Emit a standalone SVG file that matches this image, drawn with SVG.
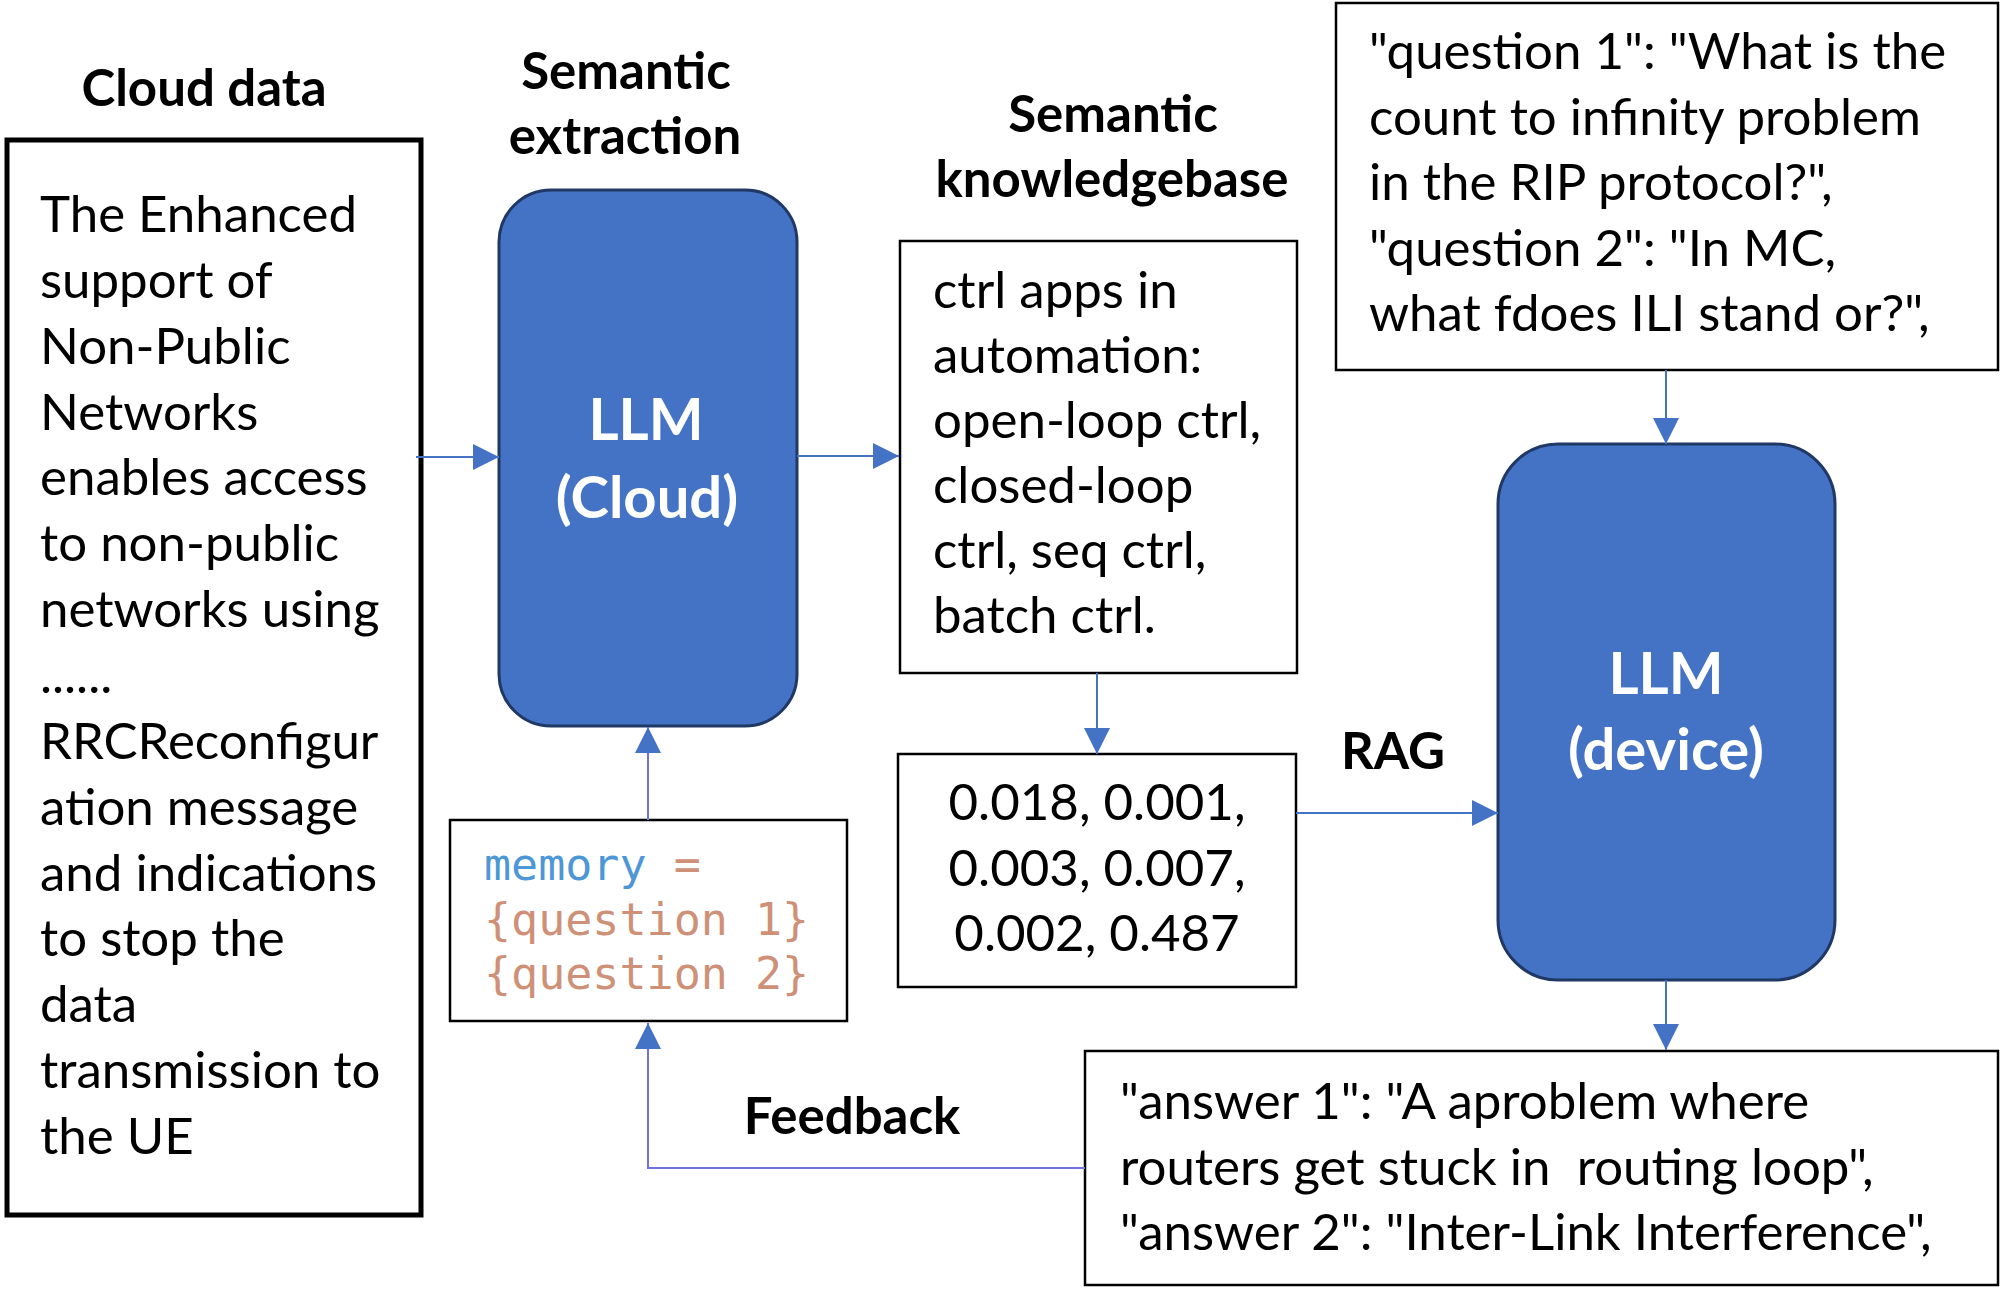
<svg xmlns="http://www.w3.org/2000/svg" width="2002" height="1301" viewBox="0 0 2002 1301">
<style>
.t{font-family:Lato,"Noto Sans",sans-serif;font-size:51px;fill:#000;white-space:pre}
.b{font-family:Lato,"Noto Sans",sans-serif;font-size:51px;font-weight:bold;fill:#000;text-anchor:middle}
.w{font-family:Lato,"Noto Sans",sans-serif;font-size:58px;font-weight:bold;fill:#fff;text-anchor:middle}
.box{fill:#fff;stroke:#000;stroke-width:2.5}
.llm{fill:#4472C4;stroke:#203864;stroke-width:3}
.m{font-family:"DejaVu Sans Mono",monospace;font-size:45px}
.c{fill:none;stroke:#4472C4;stroke-width:2}
.p{fill:none;stroke:#7070E0;stroke-width:2}
</style>
<defs>
<marker id="ah" viewBox="0 0 26 26" refX="26" refY="13" markerWidth="26" markerHeight="26" markerUnits="userSpaceOnUse" orient="auto">
<path d="M0,0 L26,13 L0,26 Z" fill="#4472C4"/>
</marker>
</defs>

<g id="titles">
<text class="b" x="204" y="106">Cloud data</text>
<text class="b" x="626" y="89">Semantic</text>
<text class="b" x="625" y="154">extraction</text>
<text class="b" x="1113" y="132">Semantic</text>
<text class="b" x="1112" y="197">knowledgebase</text>
<text class="b" x="1393" y="769">RAG</text>
<text class="b" x="852" y="1134">Feedback</text>
</g>

<g id="cloud-data">
<rect x="7" y="140" width="414" height="1075" fill="#fff" stroke="#000" stroke-width="5"/>
<text class="t" x="40" y="232">The Enhanced</text>
<text class="t" x="40" y="298">support of</text>
<text class="t" x="40" y="364">Non-Public</text>
<text class="t" x="40" y="430">Networks</text>
<text class="t" x="40" y="495">enables access</text>
<text class="t" x="40" y="561">to non-public</text>
<text class="t" x="40" y="627">networks using</text>
<text class="t" x="40" y="693">......</text>
<text class="t" x="40" y="759">RRCReconfigur</text>
<text class="t" x="40" y="825">ation message</text>
<text class="t" x="40" y="891">and indications</text>
<text class="t" x="40" y="956">to stop the</text>
<text class="t" x="40" y="1022">data</text>
<text class="t" x="40" y="1088">transmission to</text>
<text class="t" x="40" y="1154">the UE</text>
</g>

<g id="llm-cloud">
<rect class="llm" x="499" y="190" width="298" height="536" rx="52"/>
<text class="w" x="646" y="440">LLM</text>
<text class="w" x="647" y="518">(Cloud)</text>
</g>

<g id="knowledgebase">
<rect class="box" x="900" y="241" width="397" height="432"/>
<text class="t" x="933" y="308">ctrl apps in</text>
<text class="t" x="933" y="373">automation:</text>
<text class="t" x="933" y="438">open-loop ctrl,</text>
<text class="t" x="933" y="503">closed-loop</text>
<text class="t" x="933" y="568">ctrl, seq ctrl,</text>
<text class="t" x="933" y="633">batch ctrl.</text>
</g>

<g id="vectors">
<rect class="box" x="898" y="754" width="398" height="233"/>
<text class="t" x="1097" y="820" text-anchor="middle">0.018, 0.001,</text>
<text class="t" x="1097" y="886" text-anchor="middle">0.003, 0.007,</text>
<text class="t" x="1097" y="951" text-anchor="middle">0.002, 0.487</text>
</g>

<g id="memory">
<rect class="box" x="450" y="820" width="397" height="201"/>
<text class="m" x="484" y="880"><tspan fill="#4D97D6">memory</tspan><tspan fill="#CE9178"> =</tspan></text>
<text class="m" x="484" y="935" fill="#CE9178">{question 1}</text>
<text class="m" x="484" y="989" fill="#CE9178">{question 2}</text>
</g>

<g id="questions">
<rect class="box" x="1336" y="3" width="662" height="367"/>
<text class="t" x="1369" y="69">"question 1": "What is the</text>
<text class="t" x="1369" y="135">count to infinity problem</text>
<text class="t" x="1369" y="200">in the RIP protocol?",</text>
<text class="t" x="1369" y="266">"question 2": "In MC,</text>
<text class="t" x="1369" y="331">what fdoes ILI stand or?",</text>
</g>

<g id="llm-device">
<rect class="llm" x="1498" y="444" width="337" height="536" rx="60"/>
<text class="w" x="1666" y="694">LLM</text>
<text class="w" x="1666" y="770">(device)</text>
</g>

<g id="answers">
<rect class="box" x="1085" y="1051" width="913" height="234"/>
<text class="t" x="1120" y="1119">"answer 1": "A aproblem where</text>
<text class="t" x="1120" y="1185" xml:space="preserve">routers get stuck in  routing loop",</text>
<text class="t" x="1120" y="1250">"answer 2": "Inter-Link Interference",</text>
</g>

<g id="connectors">
<path class="c" d="M416,457 H499" marker-end="url(#ah)"/>
<path class="c" d="M797,456 H899" marker-end="url(#ah)"/>
<path class="c" d="M1097,673 V754" marker-end="url(#ah)"/>
<path class="c" d="M1296,813 H1498" marker-end="url(#ah)"/>
<path class="c" d="M1666,370 V444" marker-end="url(#ah)"/>
<path class="c" d="M1666,980 V1050" marker-end="url(#ah)"/>
<path class="p" d="M648,820 V727" marker-end="url(#ah)"/>
<path class="p" d="M1085,1168 H648 V1023" marker-end="url(#ah)"/>
</g>
</svg>
